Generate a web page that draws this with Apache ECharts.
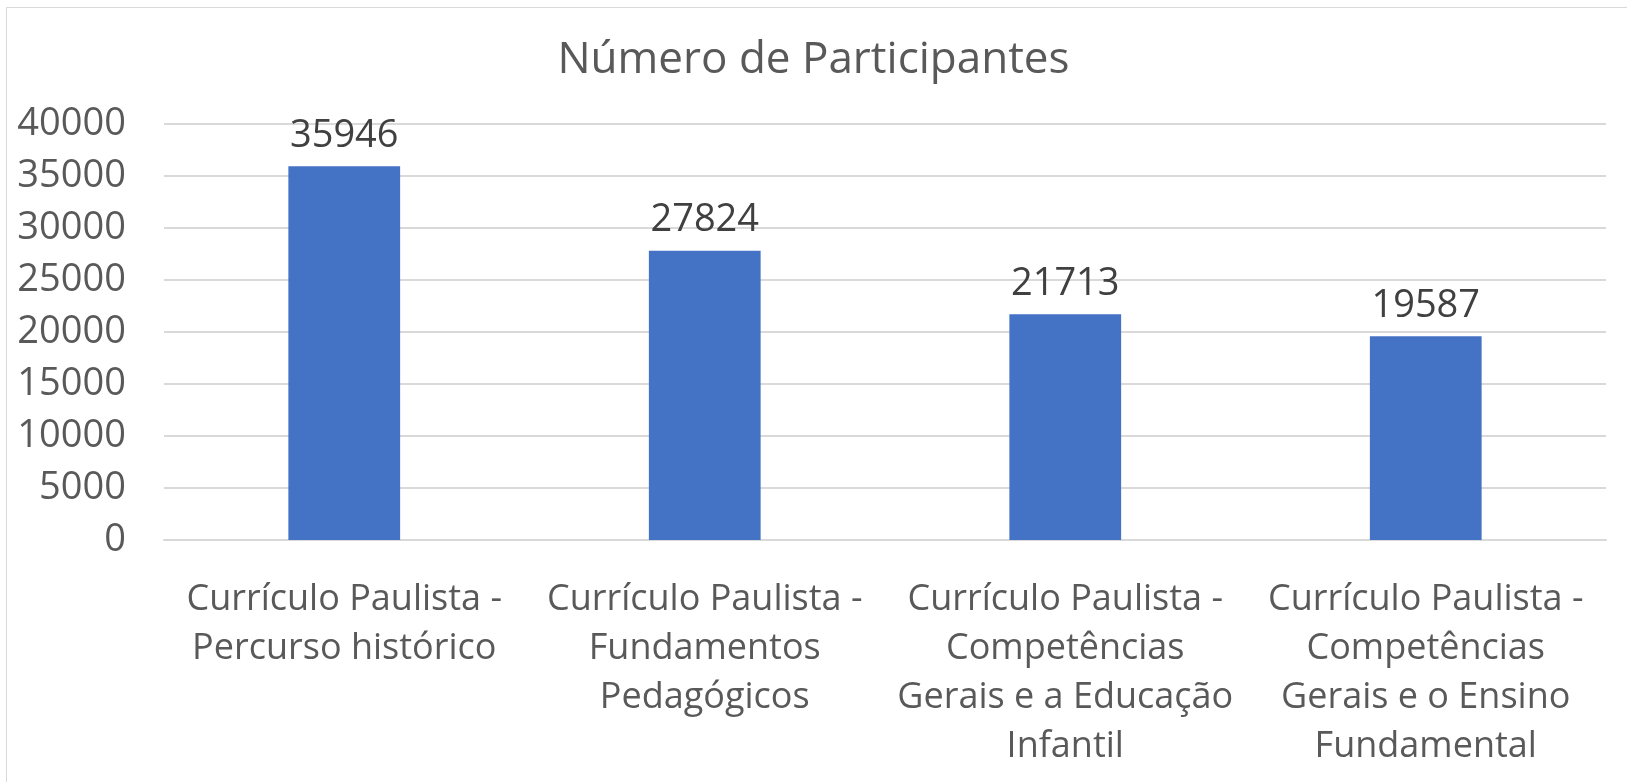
<!DOCTYPE html>
<html>
<head>
    <meta charset="utf-8">
    <script src="https://cdn.jsdelivr.net/npm/echarts@6/dist/echarts.min.js"></script>
    <style>
    html, body { margin: 0; padding: 0; background: #fff; }
    #main { width: 1627px; height: 782px; }
    </style>
    <title>Número de Participantes</title>
</head>
<body>
    <div id="main"></div>
    <script type="text/javascript">
        // dados
        var cursos = [
            'Currículo Paulista -\nPercurso histórico',
            'Currículo Paulista -\nFundamentos\nPedagógicos',
            'Currículo Paulista -\nCompetências\nGerais e a Educação\nInfantil',
            'Currículo Paulista -\nCompetências\nGerais e o Ensino\nFundamental'
        ];
        var participantes = [35946, 27824, 21713, 19587];
        var yMin = 0, yMax = 40000, yStep = 5000;

        var fonte = '"Open Sans", "Noto Sans", sans-serif';
        var myChart = echarts.init(document.getElementById('main'));

        var option = {
            backgroundColor: '#fff',
            animation: false,
            title: {
                text: 'Número de Participantes',
                left: 'center',
                top: 33,
                textStyle: { fontFamily: fonte, fontSize: 44, fontWeight: 'normal', color: '#595959' }
            },
            graphic: [{
                type: 'rect',
                shape: { x: 6.5, y: 7.5, width: 1640, height: 800 },
                style: { fill: 'none', stroke: '#d9d9d9', lineWidth: 1 },
                silent: true
            }],
            grid: { left: 164, right: 21, top: 124, bottom: 242 },
            xAxis: {
                type: 'category',
                data: cursos,
                axisTick: { show: false },
                axisLine: { lineStyle: { color: '#d9d9d9', width: 2 } },
                axisLabel: {
                    interval: 0,
                    margin: 35,
                    fontFamily: fonte, fontSize: 36, color: '#595959', lineHeight: 49
                }
            },
            yAxis: {
                type: 'value',
                min: yMin, max: yMax, interval: yStep,
                axisLine: { show: false },
                axisTick: { show: false },
                splitLine: { lineStyle: { color: '#d9d9d9', width: 2 } },
                axisLabel: {
                    margin: 38,
                    fontFamily: fonte, fontSize: 38, color: '#595959',
                    formatter: function (v) { return String(v); }
                }
            },
            series: [{
                name: 'Participantes',
                type: 'bar',
                data: participantes,
                barWidth: '31%',
                itemStyle: { color: '#4472C4' },
                label: {
                    show: true,
                    position: 'top',
                    distance: 11,
                    fontFamily: fonte, fontSize: 38, color: '#404040'
                }
            }]
        };
        myChart.setOption(option);
    </script>
</body>
</html>
